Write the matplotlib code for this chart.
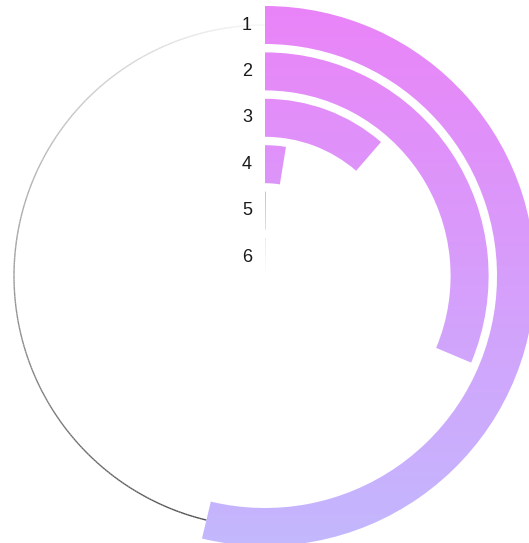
import numpy as np
import matplotlib
matplotlib.use("Agg")
import matplotlib.pyplot as plt
from matplotlib.patches import Wedge
from matplotlib.collections import LineCollection
from matplotlib.colors import LinearSegmentedColormap

# donnees
labels = ["1", "2", "3", "4", "5", "6"]
values = [5375, 3133, 1136, 256, 15, 12]
max_value = 10000

# style
ring_w = 38
ring_gap = 8.4
top_col = "#ea84f8"
bot_col = "#c3b8fe"
cmap = LinearSegmentedColormap.from_list("grad", [bot_col, top_col])

fig = plt.figure(figsize=(5.29, 5.43), dpi=100)
ax = fig.add_axes([0, 0, 1, 1])
ax.set_xlim(-265, 264)
ax.set_ylim(-267, 276)
ax.set_aspect("equal")
ax.axis("off")

# gradient vertical commun a toutes les barres
grad = np.linspace(0, 1, 256).reshape(-1, 1)

n = len(values)
for i, (lab, v) in enumerate(zip(labels, values)):
    r_in = (n - 1 - i) * (ring_w + ring_gap)
    r_out = r_in + ring_w
    angle = v / max_value * 360
    # angles en convention matplotlib (sens anti-horaire depuis l'est)
    w = Wedge((0, 0), r_out, 90 - angle, 90, width=ring_w, linewidth=0)
    ax.add_patch(w)
    w.set_facecolor("none")
    im = ax.imshow(grad, cmap=cmap, origin="lower", extent=[-270, 270, -270, 270],
                   aspect="auto", interpolation="bilinear", zorder=2)
    im.set_clip_path(w)
    ax.text(-13, (r_in + r_out) / 2, lab, ha="right", va="center",
            fontsize=13, color="#1a1a1a", family="Liberation Sans")

    # trait fin apres la premiere barre
    if i == 0:
        r_mid = (r_in + r_out) / 2
        t = np.linspace(np.radians(90 - angle), np.radians(-270), 300)
        pts = np.column_stack([r_mid * np.cos(t), r_mid * np.sin(t)])
        segs = np.stack([pts[:-1], pts[1:]], axis=1)
        shade = np.linspace(0.3, 0.97, len(segs))
        cols = [(s, s, s) for s in shade]
        lc = LineCollection(segs, colors=cols, linewidths=1.0, zorder=1)
        ax.add_collection(lc)

ax.set_xlim(-265, 264)
ax.set_ylim(-267, 276)
fig.savefig("out.png", dpi=100)
